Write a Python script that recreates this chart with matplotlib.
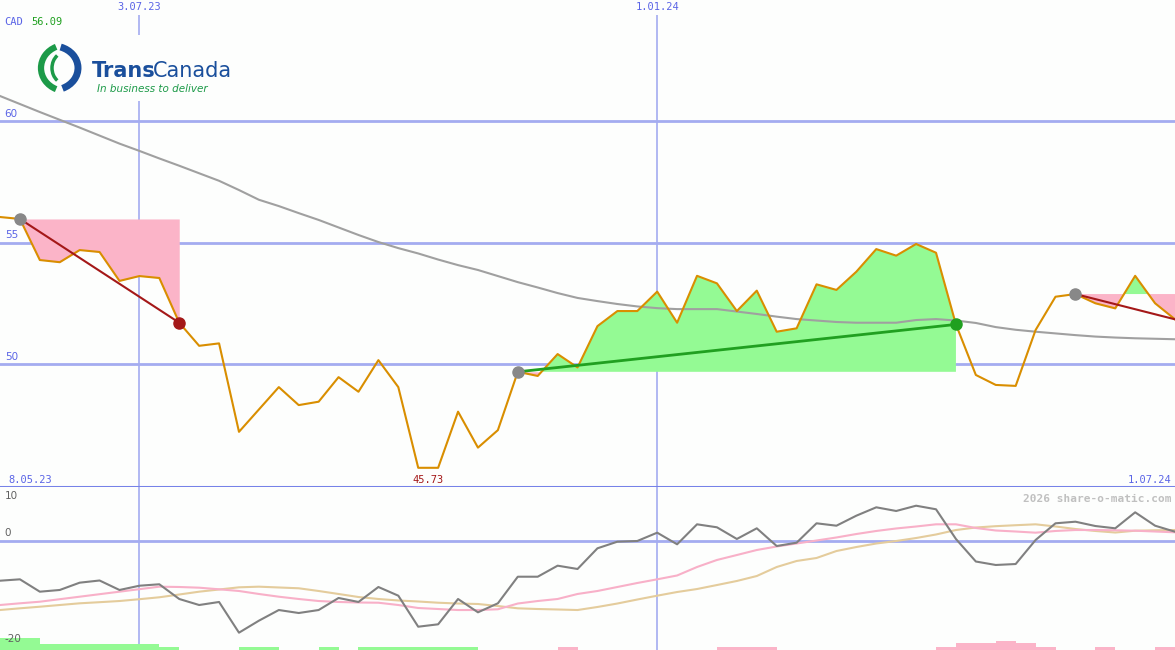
import numpy as np
import pandas as pd
import matplotlib
matplotlib.use("Agg")
import matplotlib.pyplot as plt
from matplotlib.patches import Arc, Rectangle

# weekly closes (CAD), week starting 8 May 2023
dates = pd.date_range("2023-05-08", periods=61, freq="7D")
price = [56.09, 56.05, 55.97, 54.28, 54.19, 54.69, 54.61, 53.42, 53.62, 53.54,
         51.70, 50.75, 50.85, 47.21, 48.13, 49.05, 48.31, 48.45, 49.46, 48.86,
         50.16, 49.05, 45.73, 45.73, 48.04, 46.56, 47.28, 49.68, 49.51, 50.41,
         49.86, 51.56, 52.18, 52.18, 52.98, 51.70, 53.63, 53.32, 52.18, 53.02,
         51.33, 51.47, 53.28, 53.05, 53.80, 54.73, 54.46, 54.94, 54.58, 51.63,
         49.55, 49.14, 49.10, 51.40, 52.77, 52.88, 52.50, 52.29, 53.63, 52.50,
         51.84]
# long moving average (grey)
ma_long = [61.35, 61.03, 60.70, 60.37, 60.05, 59.73, 59.40, 59.07, 58.77, 58.46,
           58.16, 57.85, 57.54, 57.16, 56.76, 56.50, 56.21, 55.93, 55.62, 55.31,
           55.02, 54.77, 54.55, 54.30, 54.07, 53.87, 53.62, 53.37, 53.15, 52.92,
           52.72, 52.59, 52.47, 52.37, 52.30, 52.26, 52.26, 52.26, 52.16, 52.06,
           51.95, 51.85, 51.79, 51.73, 51.70, 51.70, 51.70, 51.81, 51.85, 51.79,
           51.69, 51.52, 51.41, 51.33, 51.26, 51.19, 51.13, 51.09, 51.06, 51.04,
           51.02]
# lower panel oscillator and its two averages
osc = [-7.6, -7.45, -7.19, -9.51, -9.19, -7.82, -7.41, -9.19, -8.39, -8.12,
       -10.88, -12.01, -11.44, -17.20, -14.95, -12.95, -13.51, -12.95, -10.69, -11.44,
       -8.63, -10.26, -16.08, -15.63, -10.88, -13.38, -11.69, -6.70, -6.70, -4.63,
       -5.25, -1.37, -0.13, 0.0, 1.56, -0.62, 3.13, 2.57, 0.38, 2.38,
       -0.94, -0.32, 3.32, 2.87, 4.75, 6.32, 5.63, 6.62, 5.95, 0.38,
       -3.85, -4.50, -4.32, 0.19, 3.32, 3.62, 2.81, 2.38, 5.38, 2.87,
       1.74]
osc_pink = [-12.3, -12.01, -11.69, -11.39, -10.92, -10.45, -9.98, -9.51, -9.04, -8.57,
            -8.63, -8.76, -9.06, -9.38, -9.94, -10.45, -10.88, -11.26, -11.44, -11.54,
            -11.58, -12.01, -12.57, -12.76, -12.95, -12.95, -12.81, -11.73, -11.26, -10.88,
            -9.94, -9.38, -8.63, -7.88, -7.19, -6.47, -4.88, -3.56, -2.63, -1.69,
            -1.03, -0.47, 0.09, 0.66, 1.31, 1.88, 2.35, 2.72, 3.13, 3.13,
            2.44, 1.97, 1.78, 1.56, 1.88, 2.06, 2.06, 2.01, 1.93, 1.78,
            1.63]
osc_tan = [-13.2, -12.95, -12.63, -12.33, -12.01, -11.69, -11.48, -11.26, -10.92, -10.56,
           -10.04, -9.51, -9.10, -8.69, -8.57, -8.72, -8.87, -9.38, -9.94, -10.51,
           -10.88, -11.16, -11.35, -11.58, -11.73, -11.82, -12.20, -12.63, -12.76, -12.85,
           -12.95, -12.38, -11.73, -10.98, -10.26, -9.57, -9.01, -8.26, -7.50, -6.57,
           -4.88, -3.75, -3.19, -1.88, -1.13, -0.47, 0.0, 0.56, 1.22, 2.06,
           2.53, 2.78, 2.96, 3.13, 2.72, 2.25, 1.88, 1.59, 1.93, 2.01,
           2.06]
# signal bars at the bottom (+ green / - pink)
signal = [0, 2.2, 2.2, 1.1, 1.1, 1.1, 1.1, 1.1, 1.1, 0.5,
          0, 0, 0, 0.5, 0.5, 0, 0, 0.5, 0, 0.6,
          0.6, 0.6, 0.6, 0.6, 0.6, 0, 0, 0, 0, -0.5,
          0, 0, 0, 0, 0, 0, 0, -0.5, -0.5, -0.5,
          0, 0, 0, 0, 0, 0, 0, 0, -0.5, -1.25,
          -1.25, -1.7, -1.25, -0.5, 0, 0, -0.5, 0, 0, -0.5,
          0]

# trends: (start index, end index, closed)
trends = [(2, 10, True), (27, 49, True), (55, 60, False)]

price_grid = [50, 55, 60]
osc_labels = [(10, "10"), (0, "0"), (-20, "-20")]
date_grid = [pd.Timestamp("2023-07-03"), pd.Timestamp("2024-01-01")]
date_grid_labels = ["3.07.23", "1.01.24"]
first_label, last_label = "8.05.23", "1.07.24"
currency, last_quote = "CAD", "56.09"
low_idx = 22

BG = "#fdfefd"
GRID = "#a4acf0"
BLUE_TXT = "#5a64e6"
PINK_FILL = "#fbb4c8"
GREEN_FILL = "#94fa94"
DOWN = "#a41818"
UP = "#20a020"
MONO = "DejaVu Sans Mono"

fig = plt.figure(figsize=(11.75, 6.5), dpi=100, facecolor=BG)
ax = fig.add_axes([0, 163 / 650, 1, 487 / 650], facecolor=BG)
ax2 = fig.add_axes([0, 0, 1, 163 / 650], facecolor=BG)

xlim = (pd.Timestamp("2023-05-15"), pd.Timestamp("2024-07-01"))
price = np.array(price)

for a in (ax, ax2):
    a.set_xlim(*xlim)
    for d in date_grid:
        a.axvline(d, color=GRID, lw=1.2, zorder=1)
    a.set_xticks([])
    a.set_yticks([])
    for s in a.spines.values():
        s.set_visible(False)

# --- main panel
ax.set_ylim(44.94, 64.98)
for g in price_grid:
    ax.axhline(g, color=GRID, lw=2, zorder=1)
    ax.text(0.004, g + 0.1, str(g), transform=ax.get_yaxis_transform(),
            color=BLUE_TXT, fontsize=7.5, va="bottom", ha="left")

for s, e, closed in trends:
    xs = dates[s:e + 1]
    ps = price[s:e + 1]
    base = price[s]
    ax.fill_between(xs, base, ps, where=ps >= base, interpolate=True,
                    color=GREEN_FILL, lw=0, zorder=2)
    ax.fill_between(xs, base, ps, where=ps <= base, interpolate=True,
                    color=PINK_FILL, lw=0, zorder=2)

ax.plot(dates, ma_long, color="#a0a0a0", lw=1.5, zorder=3)
ax.plot(dates, price, color="#d98e00", lw=1.5, zorder=4)

for s, e, closed in trends:
    col = UP if price[e] > price[s] else DOWN
    ax.plot([dates[s], dates[e]], [price[s], price[e]], color=col,
            lw=1.5 if col == DOWN else 2.0, zorder=5)
    ax.plot(dates[s], price[s], "o", color="#888888", ms=8, zorder=6)
    if closed:
        ax.plot(dates[e], price[e], "o", color=col, ms=8, zorder=6)

ax.spines["bottom"].set_visible(True)
ax.spines["bottom"].set_color("#7682e8")
ax.spines["bottom"].set_linewidth(2.2)

for d, lab in zip(date_grid, date_grid_labels):
    ax.text(d, 0.995, lab, transform=ax.get_xaxis_transform(), ha="center", va="top",
            color=BLUE_TXT, fontsize=7.5, family=MONO,
            bbox=dict(facecolor=BG, edgecolor="none", pad=1.5), zorder=7)
ax.text(0.004, 0.965, currency, transform=ax.transAxes, color=BLUE_TXT,
        fontsize=7.5, family=MONO, va="top")
ax.text(0.027, 0.965, last_quote, transform=ax.transAxes, color=UP,
        fontsize=7.5, family=MONO, va="top")
ax.text(0.007, 0.005, first_label, transform=ax.transAxes, color=BLUE_TXT,
        fontsize=7.5, family=MONO, va="bottom")
ax.text(0.997, 0.005, last_label, transform=ax.transAxes, color=BLUE_TXT,
        fontsize=7.5, family=MONO, va="bottom", ha="right")
ax.text(dates[low_idx] + pd.Timedelta(days=3.5), 0.005, f"{price[low_idx]:.2f}",
        transform=ax.get_xaxis_transform(), color=DOWN, fontsize=7.5,
        family=MONO, va="bottom", ha="center")

# --- lower panel
ax2.set_ylim(-20.45, 10.13)
ax2.axhline(0, color=GRID, lw=2, zorder=1)
ax2.plot(dates, osc_tan, color="#e4cc9c", lw=1.5, zorder=3)
ax2.plot(dates, osc_pink, color="#f8b0c8", lw=1.5, zorder=3)
ax2.plot(dates, osc, color="#808080", lw=1.5, zorder=4)
sig = np.array(signal)
ax2.bar(dates, np.abs(sig), width=7, align="edge", bottom=-20.45,
        color=[GREEN_FILL if v > 0 else PINK_FILL for v in sig], lw=0, zorder=2)
for v, lab in osc_labels:
    if v == max(l[0] for l in osc_labels):
        ax2.text(0.004, 0.975, lab, transform=ax2.transAxes,
                 color="#606060", fontsize=7.5, va="top", ha="left", zorder=5)
    else:
        ax2.text(0.004, v + 0.6, lab, transform=ax2.get_yaxis_transform(),
                 color="#606060", fontsize=7.5, va="bottom", ha="left", zorder=5)
ax2.text(0.997, 0.96, "2026 share-o-matic.com", transform=ax2.transAxes,
         color="#c0c0c0", fontsize=8, family=MONO, weight="bold",
         ha="right", va="top")

# --- logo overlay (pixel coordinates)
lg = fig.add_axes([0, 0, 1, 1], zorder=10)
lg.set_xlim(0, 1175)
lg.set_ylim(650, 0)
lg.axis("off")
lg.patch.set_visible(False)
lg.add_patch(Rectangle((36, 35), 202, 66, color=BG, lw=0))
lg.add_patch(Arc((66, 68), 50, 46, theta1=115, theta2=245, color="#1c9a48", lw=4.5))
lg.add_patch(Arc((66, 68), 28, 32, theta1=125, theta2=235, color="#1c9a48", lw=2.5))
lg.add_patch(Arc((53, 68), 50, 44, theta1=-70, theta2=65, color="#1a4f9c", lw=5))
lg.text(92, 77, "Trans", color="#1a4f9c", fontsize=15, weight="bold", va="baseline")
lg.text(153, 77, "Canada", color="#1a4f9c", fontsize=15, va="baseline")
lg.text(97, 92, "In business to deliver", color="#1c9a48", fontsize=7.5,
        style="italic", va="baseline")

fig.savefig("out.png", dpi=100, facecolor=BG)
